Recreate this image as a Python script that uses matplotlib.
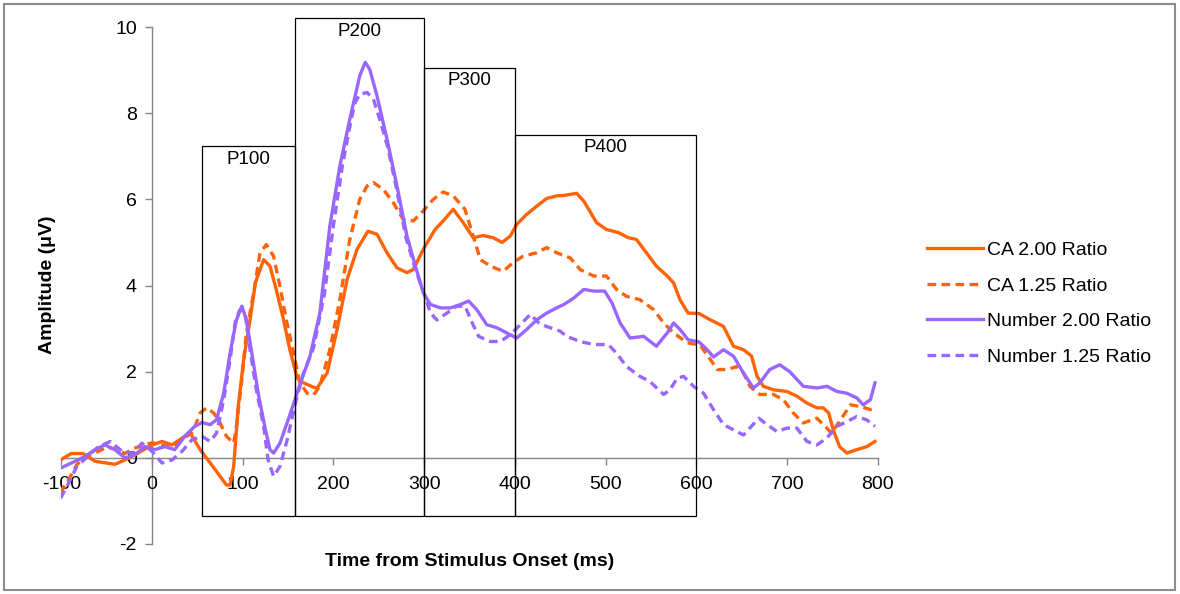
import numpy as np
import matplotlib
matplotlib.use('Agg')
import matplotlib.pyplot as plt
from matplotlib.patches import Rectangle

plt.rcParams['font.family'] = ['Liberation Sans', 'DejaVu Sans']
plt.rcParams['axes.unicode_minus'] = False

# ERP waveforms (time in ms, amplitude in uV)
ca200_t = [-101, -89, -76, -63, -41, -30, -19, 0, 11, 22, 36, 42, 53, 67, 82, 86, 90, 95, 101, 108,
           114, 123, 130, 137, 145, 152, 160, 167, 178, 182, 193, 204, 215, 226, 238, 248, 259, 270,
           281, 288, 299, 312, 321, 332, 343, 354, 365, 376, 386, 395, 402, 413, 424, 435, 446, 454,
           468, 476, 490, 501, 514, 525, 534, 545, 556, 568, 575, 582, 591, 603, 614, 630, 641, 652,
           661, 667, 674, 685, 700, 711, 722, 733, 740, 746, 751, 758, 766, 777, 788, 797]
ca200_v = [-0.05, 0.1, 0.1, -0.08, -0.15, -0.05, 0.07, 0.3, 0.38, 0.3, 0.5, 0.58, 0.19, -0.2, -0.63,
           -0.63, -0.2, 1.19, 2.28, 3.2, 4.07, 4.6, 4.45, 3.9, 3.2, 2.5, 1.85, 1.74, 1.64, 1.62, 1.97,
           2.98, 4.14, 4.84, 5.26, 5.19, 4.76, 4.41, 4.3, 4.37, 4.84, 5.3, 5.5, 5.77, 5.46, 5.11, 5.16,
           5.11, 5.0, 5.15, 5.42, 5.65, 5.84, 6.02, 6.08, 6.09, 6.14, 5.96, 5.46, 5.3, 5.23, 5.11, 5.07,
           4.76, 4.45, 4.22, 4.06, 3.67, 3.36, 3.35, 3.22, 3.05, 2.59, 2.51, 2.36, 1.89, 1.66, 1.58,
           1.54, 1.43, 1.27, 1.16, 1.16, 1.04, 0.65, 0.26, 0.11, 0.19, 0.26, 0.38]

ca125_t = [-101, -90, -83, -75, -62, -50, -40, -30, -20, -8, 0, 10, 22, 35, 45, 53, 60, 68, 75, 82,
           90, 93, 99, 104, 112, 119, 126, 134, 141, 148, 156, 163, 171, 178, 185, 196, 207, 218, 229,
           237, 244, 255, 266, 277, 288, 299, 310, 321, 332, 345, 354, 362, 373, 387, 398, 409, 424,
           435, 446, 461, 472, 487, 501, 512, 523, 538, 553, 564, 575, 590, 604, 615, 623, 634, 645,
           652, 659, 670, 685, 696, 707, 718, 733, 744, 749, 759, 770, 781, 792, 799]
ca125_v = [-0.82, -0.43, -0.16, 0.0, 0.12, 0.25, 0.2, 0.1, 0.22, 0.3, 0.35, 0.3, 0.25, 0.45, 0.6,
           1.04, 1.16, 1.04, 0.81, 0.5, 0.34, 0.73, 1.81, 2.9, 3.83, 4.76, 4.95, 4.68, 3.98, 3.2, 2.43,
           1.74, 1.5, 1.46, 1.66, 2.51, 3.67, 5.07, 6.0, 6.31, 6.39, 6.23, 5.92, 5.53, 5.5, 5.73, 6.0,
           6.17, 6.08, 5.77, 5.15, 4.6, 4.45, 4.33, 4.53, 4.68, 4.76, 4.88, 4.76, 4.64, 4.37, 4.22,
           4.22, 3.91, 3.75, 3.67, 3.44, 3.13, 2.9, 2.67, 2.62, 2.3, 2.05, 2.05, 2.12, 1.97, 1.66, 1.47,
           1.47, 1.35, 1.04, 0.81, 0.92, 0.69, 0.57, 0.88, 1.23, 1.19, 1.12, 1.16]

num200_t = [-101, -89, -74, -63, -52, -41, -30, -19, -8, 3, 14, 25, 36, 47, 55, 64, 71, 79, 86, 93,
            99, 104, 110, 117, 125, 130, 134, 141, 152, 163, 174, 185, 196, 207, 218, 229, 235, 240,
            248, 259, 270, 281, 292, 299, 307, 318, 329, 340, 349, 358, 369, 380, 391, 402, 413, 424,
            435, 446, 454, 465, 476, 487, 499, 507, 516, 527, 542, 556, 568, 575, 582, 591, 603, 612,
            619, 630, 641, 652, 663, 670, 681, 692, 703, 718, 733, 744, 755, 766, 777, 784, 792, 797]
num200_v = [-0.24, -0.12, 0.03, 0.19, 0.3, 0.19, 0.0, 0.07, 0.26, 0.19, 0.26, 0.19, 0.5, 0.73, 0.82,
            0.77, 0.88, 1.5, 2.43, 3.2, 3.52, 3.2, 2.43, 1.5, 0.65, 0.19, 0.11, 0.34, 1.0, 1.7, 2.35,
            3.36, 5.38, 6.77, 7.86, 8.87, 9.18, 9.02, 8.4, 7.4, 6.31, 5.15, 4.33, 3.83, 3.56, 3.48,
            3.48, 3.56, 3.64, 3.44, 3.09, 3.02, 2.9, 2.78, 2.98, 3.2, 3.36, 3.48, 3.56, 3.71, 3.91,
            3.87, 3.87, 3.6, 3.13, 2.78, 2.82, 2.59, 2.9, 3.13, 2.98, 2.74, 2.69, 2.51, 2.34, 2.51,
            2.36, 1.97, 1.62, 1.74, 2.05, 2.16, 2.0, 1.66, 1.62, 1.66, 1.54, 1.5, 1.39, 1.23, 1.35, 1.74]

num125_t = [-101, -92, -83, -70, -59, -46, -33, -22, -11, 0, 11, 22, 33, 44, 55, 64, 71, 79, 86, 92,
            97, 103, 108, 115, 123, 128, 134, 141, 149, 158, 167, 178, 190, 200, 210, 220, 224, 229,
            237, 244, 251, 260, 270, 280, 290, 301, 307, 314, 325, 336, 345, 353, 360, 373, 384, 395,
            406, 417, 428, 439, 450, 457, 472, 487, 503, 512, 523, 538, 549, 564, 571, 579, 586, 597,
            608, 619, 630, 641, 652, 659, 669, 678, 689, 700, 711, 722, 733, 744, 755, 766, 777, 788, 797]
num125_v = [-0.94, -0.59, -0.2, 0.05, 0.26, 0.38, 0.15, 0.1, 0.34, 0.15, -0.12, -0.05, 0.15, 0.42,
            0.5, 0.38, 0.57, 1.35, 2.28, 3.2, 3.44, 3.29, 2.51, 1.58, 0.73, -0.05, -0.43, -0.2, 0.42,
            1.27, 1.97, 2.55, 3.8, 5.4, 6.8, 7.9, 8.25, 8.44, 8.48, 8.33, 7.86, 7.2, 6.2, 5.1, 4.4, 3.75,
            3.36, 3.2, 3.36, 3.52, 3.52, 3.13, 2.82, 2.7, 2.7, 2.86, 3.09, 3.33, 3.1, 3.02, 2.94, 2.82,
            2.7, 2.63, 2.63, 2.43, 2.12, 1.89, 1.77, 1.47, 1.58, 1.85, 1.89, 1.66, 1.5, 1.12, 0.77, 0.65,
            0.53, 0.69, 0.92, 0.77, 0.61, 0.69, 0.69, 0.38, 0.3, 0.46, 0.73, 0.84, 0.96, 0.88, 0.73]

# component windows: name, start, end, box top
comp_names = ['P100', 'P200', 'P300', 'P400']
comp_start = [55, 158, 300, 400]
comp_end = [158, 300, 400, 600]
comp_top = [7.23, 10.2, 9.06, 7.49]
box_bottom = -1.35

orange = '#FF6309'
purple = '#9966FF'
axis_gray = '#868686'

fig = plt.figure(figsize=(11.8, 5.94), dpi=100)
ax = fig.add_axes([0.052, 0.0842, 0.6918, 0.8703])

lw = 2.4
dash = (0, (2.6, 1.6))
ax.plot(ca200_t, ca200_v, color=orange, lw=lw, label='CA 2.00 Ratio', solid_joinstyle='round')
ax.plot(ca125_t, ca125_v, color=orange, lw=lw, ls=dash, label='CA 1.25 Ratio')
ax.plot(num200_t, num200_v, color=purple, lw=lw, label='Number 2.00 Ratio', solid_joinstyle='round')
ax.plot(num125_t, num125_v, color=purple, lw=lw, ls=dash, label='Number 1.25 Ratio')

# component boxes
for name, s, e, top in zip(comp_names, comp_start, comp_end, comp_top):
    ax.add_patch(Rectangle((s, box_bottom), e - s, top - box_bottom, fill=False,
                           edgecolor='black', lw=0.9, zorder=5, clip_on=False))
    ax.text((s + e) / 2, top - 0.1, name, ha='center', va='top', fontsize=13.5, zorder=6)

ax.set_xlim(-100, 800)
ax.set_ylim(-2, 10)
ax.set_xticks(np.arange(-100, 801, 100))
ax.set_yticks(np.arange(-2, 11, 2))

# Excel-style crossing axes
ax.spines['left'].set_position(('data', 0))
ax.spines['bottom'].set_position(('data', 0))
ax.spines['top'].set_visible(False)
ax.spines['right'].set_visible(False)
for sp in ['left', 'bottom']:
    ax.spines[sp].set_color(axis_gray)
    ax.spines[sp].set_linewidth(1.0)
    ax.spines[sp].set_zorder(1)
ax.tick_params(axis='both', colors=axis_gray, labelcolor='black', labelsize=14,
               direction='out', length=5, width=1.0)
ax.tick_params(axis='x', pad=8)
ax.tick_params(axis='y', pad=6)

fig.text(0.040, 0.52, 'Amplitude (\u03bcV)', rotation=90, ha='center', va='center',
         fontsize=14, fontweight='bold')
fig.text(0.398, 0.055, 'Time from Stimulus Onset (ms)', ha='center', va='center',
         fontsize=14, fontweight='bold')

fig.legend(loc='upper left', bbox_to_anchor=(0.771, 0.623), frameon=False, fontsize=14,
           handlelength=2.85, handletextpad=0.22, labelspacing=0.92)

# outer frame
fig.patches.append(Rectangle((0.0035, 0.006), 0.9925, 0.987, transform=fig.transFigure,
                             fill=False, edgecolor='#8C8C8C', lw=1.5))

fig.savefig('out.png', dpi=100)
